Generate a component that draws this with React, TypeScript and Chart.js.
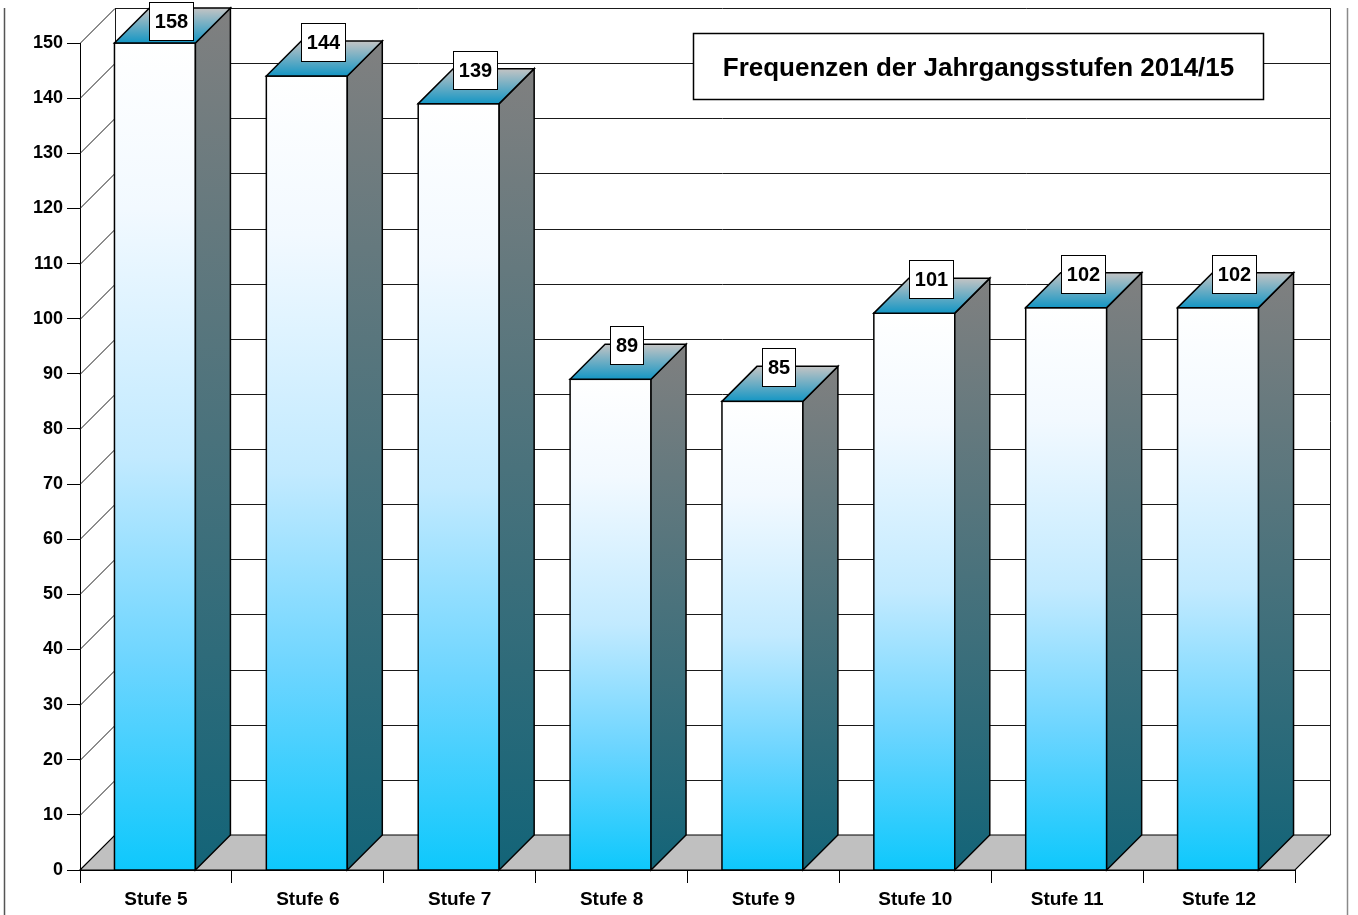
import React, { useEffect, useRef } from "react";
import { Chart, registerables } from "chart.js";

Chart.register(...registerables);

// Pupils per grade level, school year 2014/15
const categories = ["Stufe 5", "Stufe 6", "Stufe 7", "Stufe 8", "Stufe 9", "Stufe 10", "Stufe 11", "Stufe 12"];
const frequencies = [158, 144, 139, 89, 85, 101, 102, 102];
const yMin = 0;
const yMax = 150;
const yStep = 10;
const chartTitle = "Frequenzen der Jahrgangsstufen 2014/15";

const FONT = "'Liberation Sans', Arial, sans-serif";
const DEPTH = 35; // oblique depth of the 3D box, px

const bar3dPlugin = {
  id: "bar3d",
  beforeDraw(chart: any) {
    const { ctx, width, height } = chart;
    ctx.save();
    ctx.fillStyle = "#ffffff";
    ctx.fillRect(0, 0, width, height);
    ctx.restore();
  },
  beforeDatasetsDraw(chart: any) {
    const { ctx, chartArea: a } = chart;
    const y = chart.scales.y;
    const bl = a.left + DEPTH;
    const br = a.right + DEPTH;
    const bt = a.top - DEPTH;
    const bb = a.bottom - DEPTH;

    ctx.save();
    // back wall grid and left wall diagonals
    ctx.strokeStyle = "#1a1a1a";
    ctx.lineWidth = 1;
    for (const t of y.ticks) {
      const py = Math.round(y.getPixelForValue(t.value)) + 0.5;
      ctx.beginPath();
      ctx.moveTo(bl, py - DEPTH);
      ctx.lineTo(br, py - DEPTH);
      ctx.stroke();
      ctx.beginPath();
      ctx.moveTo(a.left, py);
      ctx.lineTo(bl, py - DEPTH);
      ctx.stroke();
    }
    ctx.beginPath();
    ctx.moveTo(bl + 0.5, bt);
    ctx.lineTo(bl + 0.5, bb);
    ctx.moveTo(br + 0.5, bt);
    ctx.lineTo(br + 0.5, bb);
    ctx.stroke();

    // floor
    ctx.beginPath();
    ctx.moveTo(a.left, a.bottom);
    ctx.lineTo(a.right, a.bottom);
    ctx.lineTo(br, bb);
    ctx.lineTo(bl, bb);
    ctx.closePath();
    ctx.fillStyle = "#c0c0c0";
    ctx.fill();
    ctx.strokeStyle = "#000";
    ctx.lineWidth = 1.2;
    ctx.stroke();

    // 3D bars
    const meta = chart.getDatasetMeta(0);
    const data = chart.data.datasets[0].data as number[];
    meta.data.forEach((el: any, i: number) => {
      const v = Math.min(data[i], y.max);
      const top = y.getPixelForValue(v);
      const base = y.getPixelForValue(0);
      const left = el.x - el.width / 2 - 1;
      const right = el.x + el.width / 2 - 1;

      // front face
      const gf = ctx.createLinearGradient(0, top, 0, base);
      gf.addColorStop(0, "#ffffff");
      gf.addColorStop(0.2, "#f2f9ff");
      gf.addColorStop(0.5, "#c2eaff");
      gf.addColorStop(0.75, "#6cd5ff");
      gf.addColorStop(1, "#0ec8fc");
      ctx.fillStyle = gf;
      ctx.fillRect(left, top, right - left, base - top);
      ctx.strokeStyle = "#000";
      ctx.lineWidth = 1.5;
      ctx.strokeRect(left, top, right - left, base - top);

      // side face
      const gs = ctx.createLinearGradient(0, top - DEPTH, 0, base);
      gs.addColorStop(0, "#808080");
      gs.addColorStop(1, "#136478");
      ctx.beginPath();
      ctx.moveTo(right, top);
      ctx.lineTo(right + DEPTH, top - DEPTH);
      ctx.lineTo(right + DEPTH, base - DEPTH);
      ctx.lineTo(right, base);
      ctx.closePath();
      ctx.fillStyle = gs;
      ctx.fill();
      ctx.stroke();

      // top face
      const gt = ctx.createLinearGradient(0, top - DEPTH, 0, top);
      gt.addColorStop(0, "#c4c4c4");
      gt.addColorStop(1, "#1496c4");
      ctx.beginPath();
      ctx.moveTo(left, top);
      ctx.lineTo(left + DEPTH, top - DEPTH);
      ctx.lineTo(right + DEPTH, top - DEPTH);
      ctx.lineTo(right, top);
      ctx.closePath();
      ctx.fillStyle = gt;
      ctx.fill();
      ctx.stroke();
    });
    ctx.restore();
  },
  afterDatasetsDraw(chart: any) {
    const { ctx } = chart;
    const y = chart.scales.y;
    const meta = chart.getDatasetMeta(0);
    const data = chart.data.datasets[0].data as number[];
    ctx.save();
    ctx.font = `bold 20px ${FONT}`;
    ctx.textAlign = "center";
    ctx.textBaseline = "middle";
    meta.data.forEach((el: any, i: number) => {
      const v = Math.min(data[i], y.max);
      const top = y.getPixelForValue(v);
      const text = String(data[i]);
      const w = ctx.measureText(text).width + 11;
      const h = 38;
      const cx = el.x + DEPTH / 2 - 2;
      let cy = top - DEPTH + 1;
      if (cy - h / 2 < 2) cy = 2 + h / 2;
      const bx = Math.round(cx - w / 2) + 0.5;
      const by = Math.round(cy - h / 2) + 0.5;
      ctx.fillStyle = "#ffffff";
      ctx.fillRect(bx, by, Math.round(w), h);
      ctx.strokeStyle = "#000";
      ctx.lineWidth = 1;
      ctx.strokeRect(bx, by, Math.round(w), h);
      ctx.fillStyle = "#000";
      ctx.fillText(text, bx + Math.round(w) / 2, by + h / 2 + 1);
    });
    ctx.restore();
  },
  afterDraw(chart: any) {
    const { ctx, height } = chart;
    ctx.save();
    // title box
    const tx = 693.5, ty = 33.5, tw = 570, th = 66;
    ctx.fillStyle = "#ffffff";
    ctx.fillRect(tx, ty, tw, th);
    ctx.strokeStyle = "#000";
    ctx.lineWidth = 1.5;
    ctx.strokeRect(tx, ty, tw, th);
    ctx.fillStyle = "#000";
    ctx.font = `bold 26px ${FONT}`;
    ctx.textAlign = "center";
    ctx.textBaseline = "middle";
    ctx.fillText(chartTitle, tx + tw / 2, ty + th / 2 + 2);

    // outer frame edges
    ctx.lineWidth = 1.5;
    ctx.strokeStyle = "#555";
    ctx.beginPath();
    ctx.moveTo(4.5, 8);
    ctx.lineTo(4.5, height);
    ctx.stroke();
    ctx.strokeStyle = "#8a8a8a";
    ctx.beginPath();
    ctx.moveTo(1347.5, 8);
    ctx.lineTo(1347.5, height);
    ctx.stroke();
    ctx.restore();
  },
};

export default function App() {
  const canvasRef = useRef<HTMLCanvasElement>(null);

  useEffect(() => {
    document.body.style.margin = "0";
    const canvas = canvasRef.current;
    if (!canvas) return;
    const chart = new Chart(canvas, {
      type: "bar",
      data: {
        labels: categories,
        datasets: [
          {
            data: frequencies,
            backgroundColor: "rgba(0,0,0,0)",
            borderWidth: 0,
            barPercentage: 0.533,
            categoryPercentage: 1,
          },
        ],
      },
      options: {
        animation: false,
        responsive: false,
        layout: { padding: { top: 43, right: 63, left: 0, bottom: 0 } },
        plugins: {
          legend: { display: false },
          tooltip: { enabled: false },
          title: { display: false },
        },
        scales: {
          x: {
            offset: true,
            grid: {
              offset: true,
              drawOnChartArea: false,
              drawTicks: true,
              tickLength: 13,
              color: "#000",
              lineWidth: 1,
            },
            border: { display: true, color: "#000", width: 1 },
            ticks: {
              color: "#000",
              font: { family: FONT, size: 19, weight: "bold" },
              padding: 5,
              maxRotation: 0,
              autoSkip: false,
            },
            afterFit(scale: any) {
              scale.height = 45;
            },
          },
          y: {
            min: yMin,
            max: yMax,
            grid: {
              drawOnChartArea: false,
              drawTicks: true,
              tickLength: 13,
              color: "#000",
              lineWidth: 1,
            },
            border: { display: true, color: "#000", width: 1 },
            ticks: {
              stepSize: yStep,
              color: "#000",
              font: { family: FONT, size: 18, weight: "bold" },
              padding: 4,
            },
            afterFit(scale: any) {
              scale.width = 80;
            },
          },
        },
      },
      plugins: [bar3dPlugin],
    });
    return () => chart.destroy();
  }, []);

  return (
    <div style={{ width: 1358, height: 915 }}>
      <canvas ref={canvasRef} width={1358} height={915} style={{ display: "block" }} />
    </div>
  );
}
